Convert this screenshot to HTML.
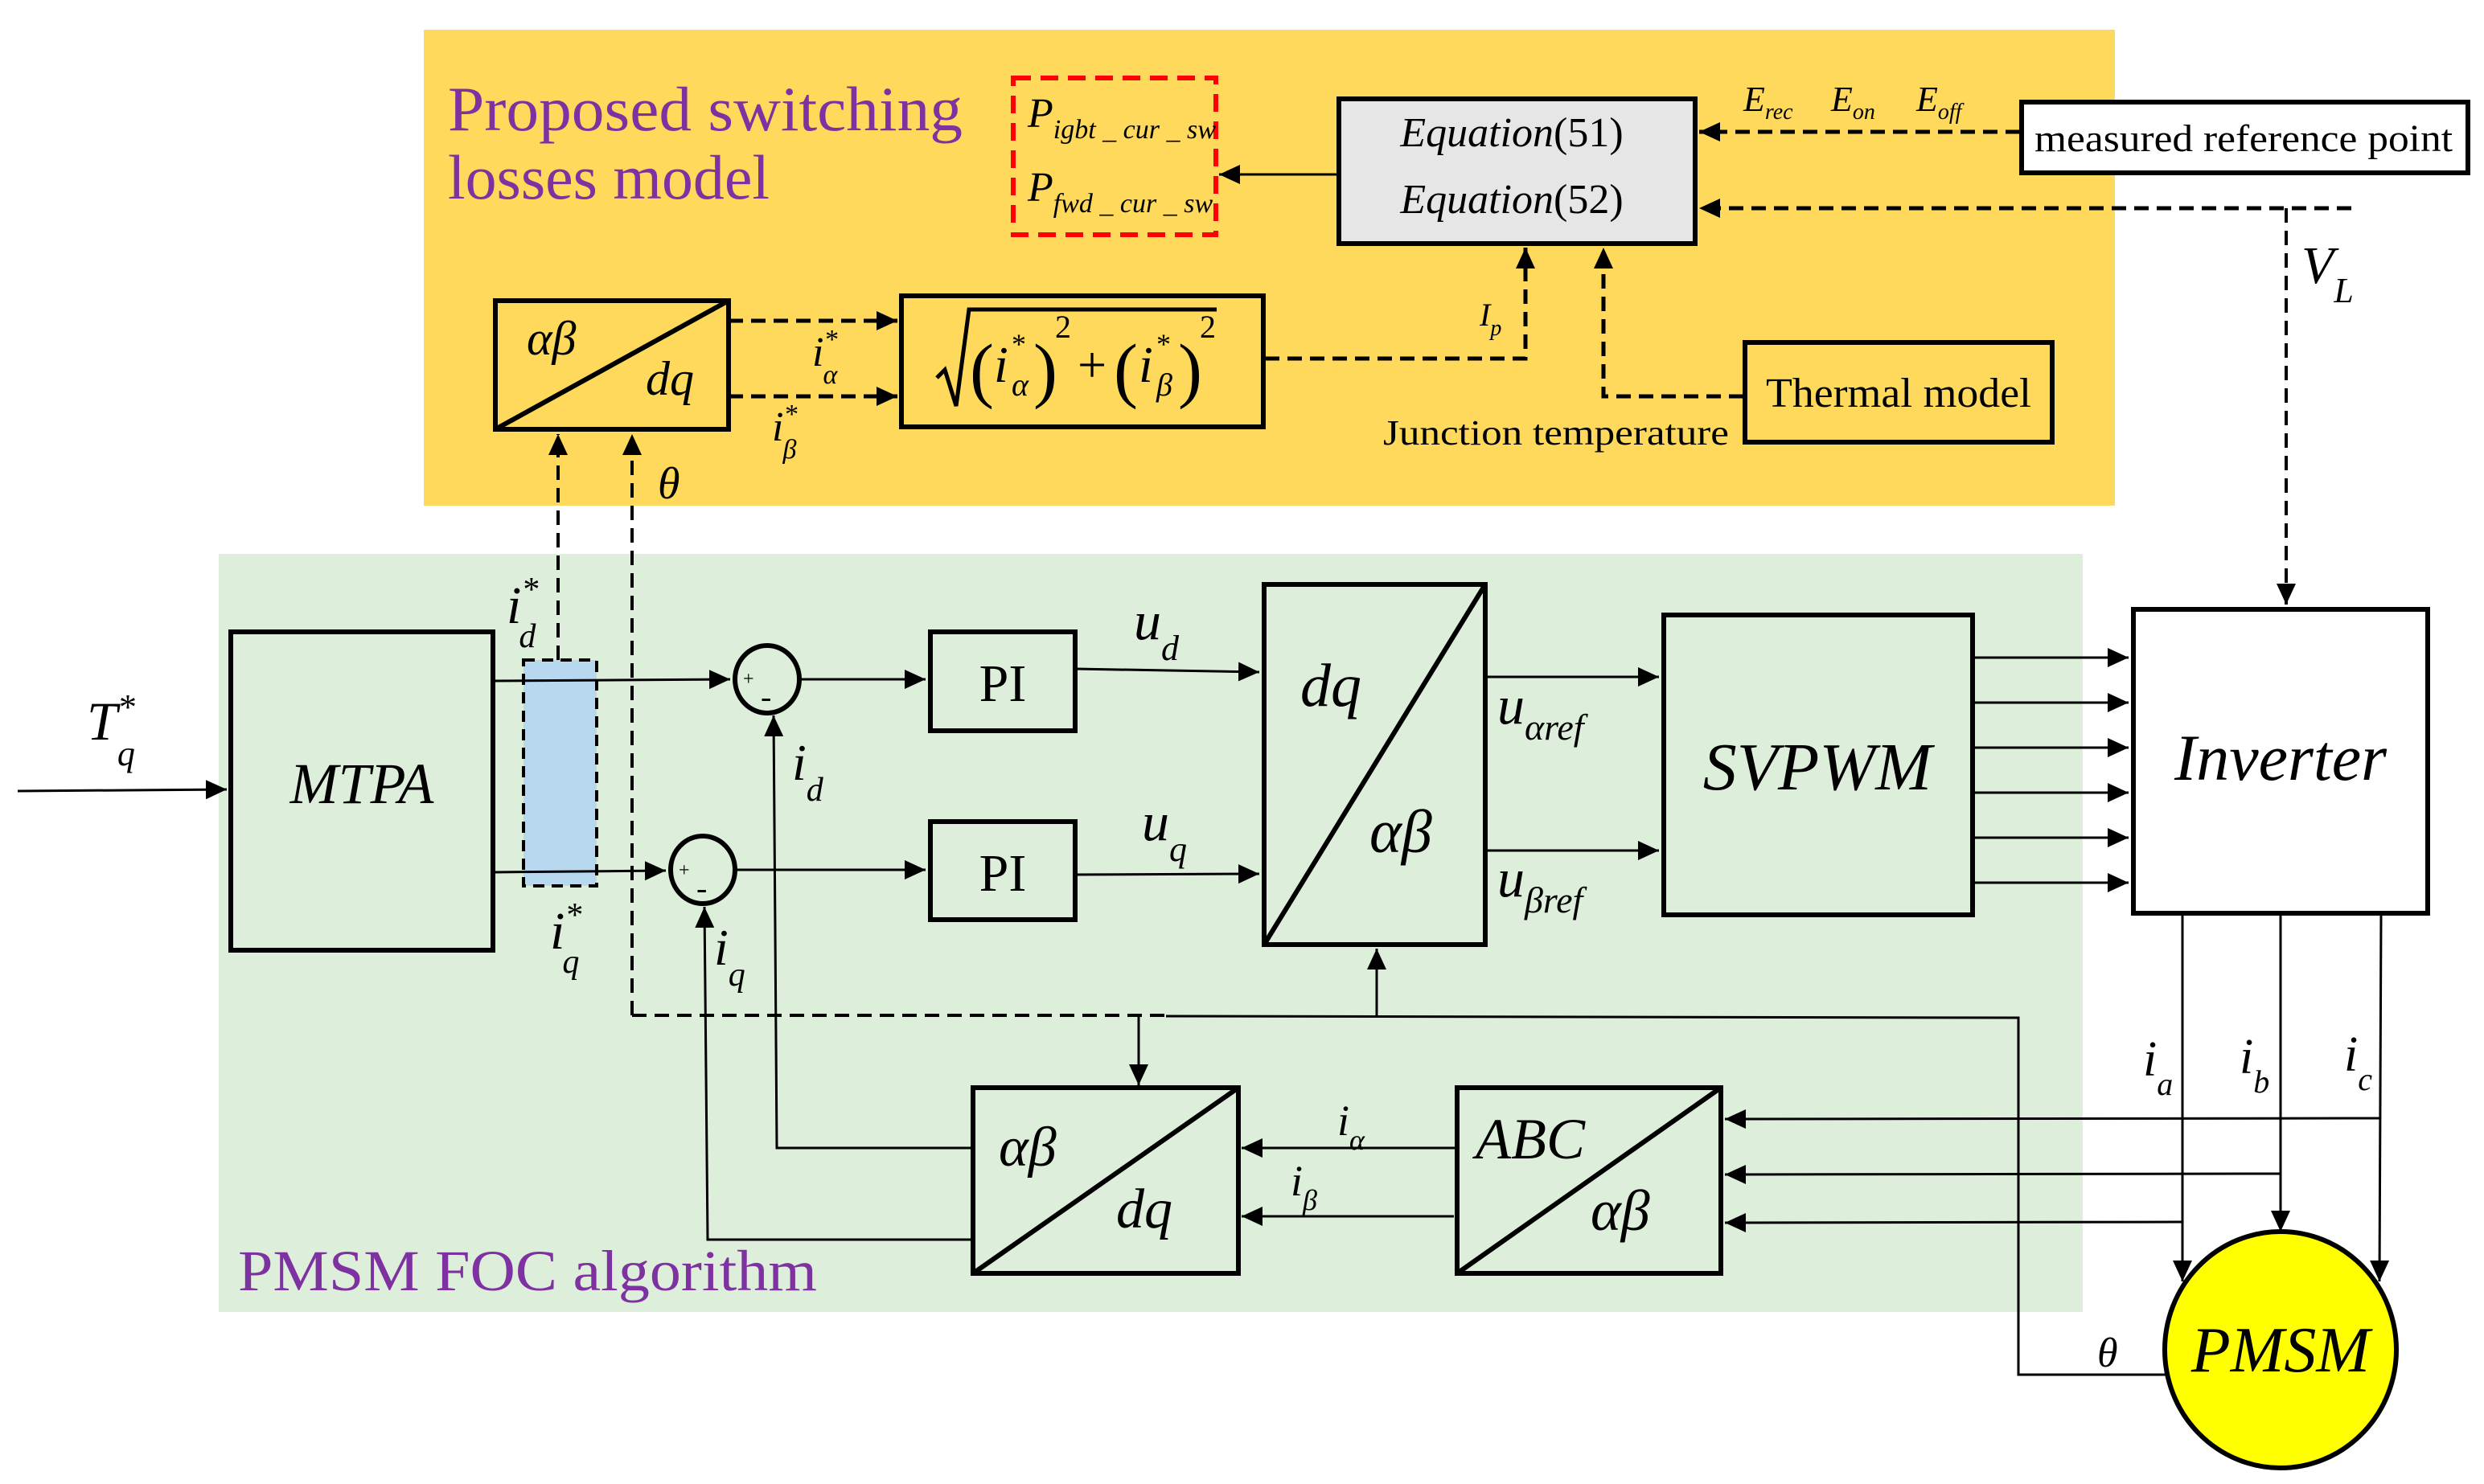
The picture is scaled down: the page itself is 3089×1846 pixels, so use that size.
<!DOCTYPE html>
<html><head><meta charset="utf-8"><style>
html,body{margin:0;padding:0;background:#fff;}
svg{display:block;}
text{font-family:"Liberation Serif",serif;}
.it{font-style:italic;}
</style></head><body>
<svg width="3089" height="1846" viewBox="0 0 3089 1846" xmlns="http://www.w3.org/2000/svg">
<defs>
<marker id="a" markerUnits="userSpaceOnUse" markerWidth="30" markerHeight="30" refX="26" refY="12" orient="auto"><path d="M0,0 L26,12 L0,24 z" fill="#000"/></marker>
</defs>
<rect x="0" y="0" width="3089" height="1846" fill="#fff"/>
<rect x="527" y="37" width="2103" height="592" fill="#fed95c"/>
<rect x="272" y="689" width="2318" height="943" fill="#ddeedb"/>

<g fill="#7e31a0">
<text x="557" y="162" font-size="78" textLength="640" lengthAdjust="spacingAndGlyphs">Proposed switching</text>
<text x="557" y="247" font-size="78" textLength="400" lengthAdjust="spacingAndGlyphs">losses model</text>
<text x="296" y="1605" font-size="72" textLength="720" lengthAdjust="spacingAndGlyphs">PMSM FOC algorithm</text>
</g>

<rect x="1260" y="97" width="252" height="195" fill="none" stroke="#f00" stroke-width="6" stroke-dasharray="22,12"/>
<text class="it" x="1278" y="158" font-size="52">P<tspan font-size="34" dy="14">igbt _ cur _ sw</tspan></text>
<text class="it" x="1278" y="250" font-size="52">P<tspan font-size="34" dy="14">fwd _ cur _ sw</tspan></text>
<line x1="1663" y1="217" x2="1516" y2="217" stroke="#000" stroke-width="3" marker-end="url(#a)"/>

<rect x="1665" y="123" width="443" height="180" fill="#e6e6e6" stroke="#000" stroke-width="6"/>
<text x="1880" y="182" font-size="52" text-anchor="middle"><tspan class="it">Equation</tspan>(51)</text>
<text x="1880" y="265" font-size="52" text-anchor="middle"><tspan class="it">Equation</tspan>(52)</text>

<rect x="2514" y="127" width="555" height="88" fill="#fff" stroke="#000" stroke-width="6"/>
<text x="2530" y="188" font-size="48" textLength="520" lengthAdjust="spacingAndGlyphs">measured reference point</text>
<line x1="2512" y1="164" x2="2113" y2="164" stroke="#000" stroke-width="5" stroke-dasharray="18,10" marker-end="url(#a)"/>
<text class="it" x="2168" y="138" font-size="44">E<tspan font-size="28" dy="10">rec</tspan></text>
<text class="it" x="2277" y="138" font-size="44">E<tspan font-size="28" dy="10">on</tspan></text>
<text class="it" x="2383" y="138" font-size="44">E<tspan font-size="28" dy="10">off</tspan></text>

<polyline points="2924,259 2113,259" fill="none" stroke="#000" stroke-width="5" stroke-dasharray="18,10" marker-end="url(#a)"/>
<line x1="2843" y1="259" x2="2843" y2="752" stroke="#000" stroke-width="4" stroke-dasharray="18,10" marker-end="url(#a)"/>
<text class="it" x="2862" y="352" font-size="66">V<tspan font-size="44" dy="24">L</tspan></text>

<polyline points="1573,446 1897,446 1897,308" fill="none" stroke="#000" stroke-width="5" stroke-dasharray="18,10" marker-end="url(#a)"/>
<text class="it" x="1840" y="405" font-size="40">I<tspan font-size="28" dy="12">p</tspan></text>
<polyline points="2168,493 1994,493 1994,308" fill="none" stroke="#000" stroke-width="5" stroke-dasharray="18,10" marker-end="url(#a)"/>
<rect x="2170" y="426" width="382" height="124" fill="none" stroke="#000" stroke-width="6"/>
<text x="2361" y="506" font-size="52" text-anchor="middle" textLength="330" lengthAdjust="spacingAndGlyphs">Thermal model</text>
<text x="1720" y="553" font-size="44" textLength="430" lengthAdjust="spacingAndGlyphs">Junction temperature</text>

<rect x="616" y="374" width="290" height="160" fill="none" stroke="#000" stroke-width="6"/>
<line x1="616" y1="534" x2="906" y2="374" stroke="#000" stroke-width="6"/>
<text class="it" x="655" y="441" font-size="60">αβ</text>
<text class="it" x="803" y="491" font-size="60">dq</text>
<line x1="906" y1="399" x2="1116" y2="399" stroke="#000" stroke-width="5" stroke-dasharray="18,10" marker-end="url(#a)"/>
<line x1="906" y1="493" x2="1116" y2="493" stroke="#000" stroke-width="5" stroke-dasharray="18,10" marker-end="url(#a)"/>
<text class="it" x="1010" y="455" font-size="52">i<tspan font-size="34" dy="-22">*</tspan><tspan font-size="34" dx="-18" dy="44">α</tspan></text>
<text class="it" x="960" y="548" font-size="52">i<tspan font-size="34" dy="-22">*</tspan><tspan font-size="34" dx="-18" dy="44">β</tspan></text>

<rect x="1121" y="368" width="450" height="163" fill="none" stroke="#000" stroke-width="6"/>
<polyline points="1165,470 1175,460 1189,505 1205,385 1513,385" fill="none" stroke="#000" stroke-width="5"/>
<g font-size="90">
<text x="1206" y="490">(</text>
<text class="it" x="1236" y="475" font-size="64">i</text>
<text x="1258" y="440" font-size="36">*</text>
<text class="it" x="1258" y="492" font-size="40">α</text>
<text x="1285" y="490">)</text>
<text x="1312" y="420" font-size="40">2</text>
<text x="1340" y="475" font-size="64">+</text>
<text x="1385" y="490">(</text>
<text class="it" x="1416" y="475" font-size="64">i</text>
<text x="1438" y="440" font-size="36">*</text>
<text class="it" x="1438" y="492" font-size="40">β</text>
<text x="1465" y="490">)</text>
<text x="1492" y="420" font-size="40">2</text>
</g>

<line x1="694" y1="821" x2="694" y2="540" stroke="#000" stroke-width="4" stroke-dasharray="18,10" marker-end="url(#a)"/>
<line x1="786" y1="1263" x2="786" y2="540" stroke="#000" stroke-width="4" stroke-dasharray="18,10" marker-end="url(#a)"/>
<text class="it" x="818" y="620" font-size="56">θ</text>
<line x1="786" y1="1263" x2="1450" y2="1263" stroke="#000" stroke-width="4" stroke-dasharray="18,10"/>
<polyline points="1450,1264 2510,1266 2510,1710 2693,1710" fill="none" stroke="#000" stroke-width="3"/>
<line x1="1416" y1="1263" x2="1416" y2="1350" stroke="#000" stroke-width="3" marker-end="url(#a)"/>
<line x1="1712" y1="1265" x2="1712" y2="1180" stroke="#000" stroke-width="3" marker-end="url(#a)"/>
<text class="it" x="2608" y="1700" font-size="52">θ</text>

<rect x="651" y="821" width="91" height="281" fill="#b7d8ee" stroke="#000" stroke-width="4" stroke-dasharray="14,9"/>

<rect x="287" y="786" width="326" height="396" fill="none" stroke="#000" stroke-width="6"/>
<text class="it" x="450" y="999" font-size="72" text-anchor="middle">MTPA</text>
<line x1="22" y1="984" x2="282" y2="982" stroke="#000" stroke-width="3" marker-end="url(#a)"/>
<text class="it" x="108" y="920" font-size="68">T<tspan font-size="44" dy="-26">*</tspan><tspan font-size="44" dx="-22" dy="58">q</tspan></text>
<text class="it" x="630" y="775" font-size="66">i<tspan font-size="42" dy="-28">*</tspan><tspan font-size="42" dx="-24" dy="58">d</tspan></text>
<text class="it" x="684" y="1180" font-size="66">i<tspan font-size="42" dy="-28">*</tspan><tspan font-size="42" dx="-24" dy="58">q</tspan></text>

<line x1="614" y1="847" x2="908" y2="845" stroke="#000" stroke-width="3" marker-end="url(#a)"/>
<ellipse cx="954" cy="845" rx="40" ry="42" fill="none" stroke="#000" stroke-width="6"/>
<text x="924" y="852" font-size="24">+</text><text x="946" y="880" font-size="40">-</text>
<line x1="994" y1="845" x2="1151" y2="845" stroke="#000" stroke-width="3" marker-end="url(#a)"/>
<line x1="614" y1="1085" x2="828" y2="1083" stroke="#000" stroke-width="3" marker-end="url(#a)"/>
<ellipse cx="874" cy="1082" rx="40" ry="42" fill="none" stroke="#000" stroke-width="6"/>
<text x="844" y="1090" font-size="24">+</text><text x="866" y="1118" font-size="40">-</text>
<line x1="914" y1="1082" x2="1151" y2="1082" stroke="#000" stroke-width="3" marker-end="url(#a)"/>

<rect x="1157" y="786" width="180" height="123" fill="none" stroke="#000" stroke-width="6"/>
<text x="1247" y="872" font-size="66" text-anchor="middle">PI</text>
<rect x="1157" y="1022" width="180" height="122" fill="none" stroke="#000" stroke-width="6"/>
<text x="1247" y="1108" font-size="66" text-anchor="middle">PI</text>
<line x1="1337" y1="832" x2="1566" y2="836" stroke="#000" stroke-width="3" marker-end="url(#a)"/>
<line x1="1337" y1="1088" x2="1566" y2="1087" stroke="#000" stroke-width="3" marker-end="url(#a)"/>
<text class="it" x="1410" y="795" font-size="68">u<tspan font-size="44" dy="26">d</tspan></text>
<text class="it" x="1420" y="1045" font-size="68">u<tspan font-size="44" dy="26">q</tspan></text>

<polyline points="1209,1428 966,1428 962,890" fill="none" stroke="#000" stroke-width="3" marker-end="url(#a)"/>
<polyline points="1209,1542 880,1542 876,1128" fill="none" stroke="#000" stroke-width="3" marker-end="url(#a)"/>
<text class="it" x="985" y="970" font-size="64">i<tspan font-size="42" dy="26">d</tspan></text>
<text class="it" x="888" y="1200" font-size="64">i<tspan font-size="42" dy="26">q</tspan></text>

<rect x="1210" y="1353" width="330" height="231" fill="none" stroke="#000" stroke-width="6"/>
<line x1="1210" y1="1584" x2="1540" y2="1353" stroke="#000" stroke-width="6"/>
<text class="it" x="1242" y="1450" font-size="70">αβ</text>
<text class="it" x="1388" y="1527" font-size="70">dq</text>

<rect x="1572" y="727" width="275" height="448" fill="none" stroke="#000" stroke-width="6"/>
<line x1="1572" y1="1175" x2="1847" y2="727" stroke="#000" stroke-width="6"/>
<text class="it" x="1617" y="878" font-size="76">dq</text>
<text class="it" x="1703" y="1060" font-size="76">αβ</text>
<line x1="1847" y1="842" x2="2063" y2="842" stroke="#000" stroke-width="3" marker-end="url(#a)"/>
<line x1="1847" y1="1058" x2="2063" y2="1058" stroke="#000" stroke-width="3" marker-end="url(#a)"/>
<text class="it" x="1862" y="900" font-size="68">u<tspan font-size="46" dy="20">αref</tspan></text>
<text class="it" x="1862" y="1115" font-size="68">u<tspan font-size="46" dy="20">βref</tspan></text>

<rect x="2069" y="765" width="384" height="373" fill="none" stroke="#000" stroke-width="6"/>
<text class="it" x="2260" y="982" font-size="84" text-anchor="middle">SVPWM</text>

<rect x="2653" y="758" width="366" height="378" fill="#fff" stroke="#000" stroke-width="6"/>
<text class="it" x="2836" y="970" font-size="82" text-anchor="middle">Inverter</text>
<g stroke="#000" stroke-width="3">
<line x1="2453" y1="818" x2="2647" y2="818" marker-end="url(#a)"/>
<line x1="2453" y1="874" x2="2647" y2="874" marker-end="url(#a)"/>
<line x1="2453" y1="930" x2="2647" y2="930" marker-end="url(#a)"/>
<line x1="2453" y1="986" x2="2647" y2="986" marker-end="url(#a)"/>
<line x1="2453" y1="1042" x2="2647" y2="1042" marker-end="url(#a)"/>
<line x1="2453" y1="1098" x2="2647" y2="1098" marker-end="url(#a)"/>
<line x1="2714" y1="1136" x2="2714" y2="1594" marker-end="url(#a)"/>
<line x1="2836" y1="1136" x2="2836" y2="1532" marker-end="url(#a)"/>
<line x1="2961" y1="1136" x2="2959" y2="1594" marker-end="url(#a)"/>
<line x1="2961" y1="1391" x2="2145" y2="1392" marker-end="url(#a)"/>
<line x1="2836" y1="1460" x2="2145" y2="1461" marker-end="url(#a)"/>
<line x1="2714" y1="1520" x2="2145" y2="1521" marker-end="url(#a)"/>
<line x1="1811" y1="1428" x2="1544" y2="1428" marker-end="url(#a)"/>
<line x1="1808" y1="1513" x2="1544" y2="1513" marker-end="url(#a)"/>
</g>
<text class="it" x="2665" y="1338" font-size="62">i<tspan font-size="40" dy="24">a</tspan></text>
<text class="it" x="2785" y="1335" font-size="62">i<tspan font-size="40" dy="24">b</tspan></text>
<text class="it" x="2915" y="1332" font-size="62">i<tspan font-size="40" dy="24">c</tspan></text>
<text class="it" x="1663" y="1412" font-size="54">i<tspan font-size="36" dy="18">α</tspan></text>
<text class="it" x="1605" y="1487" font-size="54">i<tspan font-size="36" dy="18">β</tspan></text>

<rect x="1812" y="1353" width="328" height="231" fill="none" stroke="#000" stroke-width="6"/>
<line x1="1812" y1="1584" x2="2140" y2="1353" stroke="#000" stroke-width="6"/>
<text class="it" x="1835" y="1441" font-size="72">ABC</text>
<text class="it" x="1978" y="1530" font-size="72">αβ</text>

<ellipse cx="2836" cy="1679" rx="144" ry="147" fill="#ffff00" stroke="#000" stroke-width="6"/>
<text class="it" x="2836" y="1706" font-size="80" text-anchor="middle">PMSM</text>
</svg>
</body></html>
